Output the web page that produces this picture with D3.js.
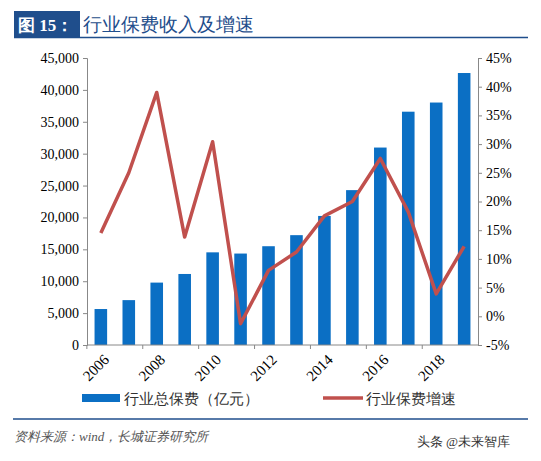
<!DOCTYPE html>
<html><head><meta charset="utf-8">
<script src="https://cdn.jsdelivr.net/npm/d3@7"></script>
<style>body{margin:0;background:#fff}text{font-family:"Times New Roman","Liberation Serif",serif}</style>
</head><body>
<script>
const years = ["2006","2007","2008","2009","2010","2011","2012","2013","2014","2015","2016","2017","2018","2019"];
const premium = [5640,7036,9784,11137,14528,14339,15488,17222,20235,24283,30959,36581,38017,42645];
const growth = [14.5,25.0,39.0,13.8,30.4,-1.3,8.0,11.2,17.5,20.0,27.5,18.2,3.9,12.2];
const leftTicks = [0,5000,10000,15000,20000,25000,30000,35000,40000,45000];
const rightTicks = [-5,0,5,10,15,20,25,30,35,40,45];

const svg = d3.select("body").append("svg").attr("width",541).attr("height",461);
const cjk = '"Noto Sans CJK SC",sans-serif';

// title banner
svg.append("rect").attr("x",14).attr("y",11).attr("width",66).attr("height",26).attr("fill","#1f4e8c");
svg.append("text").attr("x",18).attr("y",31).attr("fill","#fff").attr("font-size",17).attr("font-weight","bold")
  .attr("font-family",cjk).text("图 15：");
svg.append("text").attr("x",83).attr("y",31).attr("fill","#1f4e8c").attr("font-size",19)
  .attr("font-family",cjk).text("行业保费收入及增速");
svg.append("line").attr("x1",14).attr("x2",528).attr("y1",37.5).attr("y2",37.5).attr("stroke","#1f4e8c").attr("stroke-width",1.5);

const x = d3.scaleBand().domain(years).range([87,478]).paddingInner(0.55).paddingOuter(0.27);
const yL = d3.scaleLinear().domain([0,45000]).range([345,58]);
const yR = d3.scaleLinear().domain([-5,45]).range([345,58]);

const gl = svg.append("g").attr("transform","translate(87,0)")
  .call(d3.axisLeft(yL).tickValues(leftTicks).tickSize(4).tickFormat(d3.format(",")));
const gr = svg.append("g").attr("transform","translate(478,0)")
  .call(d3.axisRight(yR).tickValues(rightTicks).tickSize(4).tickFormat(d=>d+"%"));
[gl,gr].forEach(g=>{
  g.selectAll("text").attr("font-size",14).attr("fill","#000").attr("font-family","'Times New Roman','Liberation Serif',serif");
  g.selectAll("line,path").attr("stroke","#888");
});
gl.selectAll("text").attr("x",-8);
gr.selectAll("text").attr("x",8);

svg.selectAll(".bar").data(premium).enter().append("rect")
  .attr("x",(d,i)=>x(years[i])).attr("width",x.bandwidth())
  .attr("y",d=>yL(d)).attr("height",d=>345-yL(d)).attr("fill","#0b6fc4");

// x axis
const step = x.step();
const gx = svg.append("g").attr("transform","translate(0,345)");
gx.append("line").attr("x1",87).attr("x2",478).attr("stroke","#888");
years.forEach((y,i)=>{
  if(i%2===0){
    const bx = x(y) - (x.step()-x.bandwidth())/2;
    gx.append("line").attr("x1",bx).attr("x2",bx).attr("y1",0).attr("y2",4).attr("stroke","#888");
    gx.append("text").attr("transform",`translate(${bx+step*0.7},12) rotate(-45)`)
      .attr("text-anchor","end").attr("dy","0.35em").attr("font-size",15).text(y);
  }
});

const line = d3.line().x((d,i)=>x(years[i])+x.bandwidth()/2).y(d=>yR(d));
svg.append("path").datum(growth).attr("d",line).attr("fill","none")
  .attr("stroke","#c0504d").attr("stroke-width",3.5).attr("stroke-linejoin","round");

// legend
svg.append("rect").attr("x",82).attr("y",394).attr("width",38).attr("height",8).attr("fill","#0b6fc4");
svg.append("text").attr("x",124).attr("y",404).attr("font-size",15).attr("font-family",cjk).attr("fill","#333").text("行业总保费（亿元）");
svg.append("line").attr("x1",323).attr("x2",363).attr("y1",398).attr("y2",398).attr("stroke","#c0504d").attr("stroke-width",3.5);
svg.append("text").attr("x",366).attr("y",404).attr("font-size",15).attr("font-family",cjk).attr("fill","#333").text("行业保费增速");

svg.append("line").attr("x1",13).attr("x2",528).attr("y1",419).attr("y2",419).attr("stroke","#1f4e8c").attr("stroke-width",1.5);
svg.append("text").attr("x",14).attr("y",441).attr("font-size",13).attr("font-style","italic").attr("fill","#555")
  .attr("font-family",cjk).text("资料来源：wind，长城证券研究所");
svg.append("text").attr("x",510).attr("y",446).attr("text-anchor","end").attr("font-size",13).attr("fill","#333")
  .attr("font-family",cjk).text("头条 @未来智库");
</script>
</body></html>
